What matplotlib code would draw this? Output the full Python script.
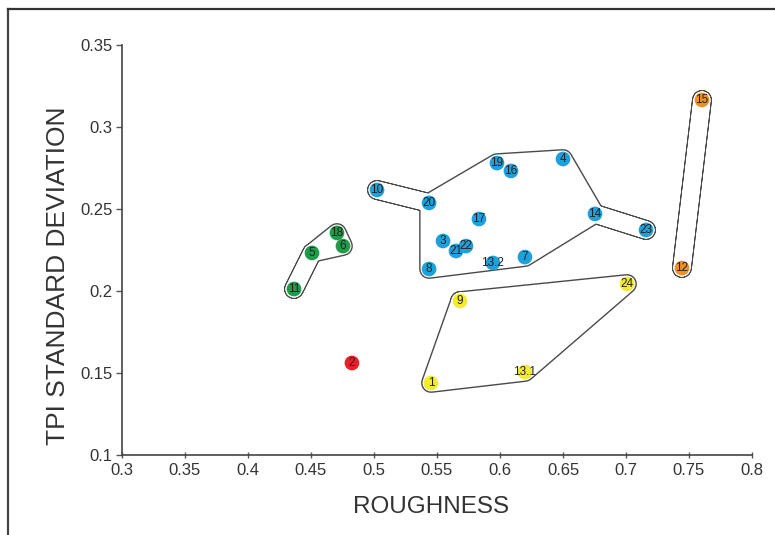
import matplotlib
matplotlib.use("Agg")
import matplotlib.pyplot as plt
from matplotlib.lines import Line2D

plt.rcParams['font.family'] = ['Liberation Sans', 'DejaVu Sans']

# site data
labels = ['1', '2', '3', '4', '5', '6', '7', '8', '9', '10', '11', '12',
          '13.1', '13.2', '14', '15', '16', '17', '18', '19', '20', '21', '22', '23', '24']
roughness = [0.5452, 0.4825, 0.5548, 0.6500, 0.4508, 0.4754, 0.6198, 0.5437, 0.5683,
             0.5024, 0.4365, 0.7444, 0.6198, 0.5944, 0.6754, 0.7603, 0.6087, 0.5833,
             0.4706, 0.5976, 0.5437, 0.5651, 0.5730, 0.7159, 0.7008]
tpi_std = [0.1439, 0.1561, 0.2305, 0.2805, 0.2232, 0.2274, 0.2207, 0.2134, 0.1939,
           0.2616, 0.2012, 0.2140, 0.1506, 0.2171, 0.2470, 0.3165, 0.2732, 0.2439,
           0.2354, 0.2780, 0.2537, 0.2244, 0.2274, 0.2372, 0.2043]
groups = ['yellow', 'red', 'blue', 'blue', 'green', 'green', 'blue', 'blue', 'yellow',
          'blue', 'green', 'orange', 'yellow', 'blue', 'blue', 'orange', 'blue', 'blue',
          'green', 'blue', 'blue', 'blue', 'blue', 'blue', 'yellow']

group_colors = {'blue': '#1ea0dc', 'green': '#1f9c4a', 'red': '#e32227',
                'yellow': '#f3ec2c', 'orange': '#f0901f'}

# outline paths, as sequences of site labels
outlines = [
    ['10', '20', '19', '4', '14', '23', '14', '7', '8', '20'],
    ['9', '24', '13.1', '1'],
    ['11', '5', '18', '6', '5'],
    ['15', '12'],
]

x_ticks = [0.3, 0.35, 0.4, 0.45, 0.5, 0.55, 0.6, 0.65, 0.7, 0.75, 0.8]
y_ticks = [0.1, 0.15, 0.2, 0.25, 0.3, 0.35]

W, H = 775, 535
fig = plt.figure(figsize=(W / 100, H / 100), dpi=100)
ax = fig.add_axes([122 / W, 80 / H, 630 / W, 410 / H])

px = 72 / 100  # points per pixel
r = 8.5       # outline distance from path, px
s = 1.4       # outline stroke, px

lookup = {lab: (x, y) for lab, x, y in zip(labels, roughness, tpi_std)}
for path in outlines:
    xs = [lookup[p][0] for p in path] + [lookup[path[0]][0]]
    ys = [lookup[p][1] for p in path] + [lookup[path[0]][1]]
    ax.plot(xs, ys, color='#4a4a4a', lw=(2 * r + 2 * s) * px,
            solid_joinstyle='round', solid_capstyle='round', zorder=1)
    ax.plot(xs, ys, color='white', lw=2 * r * px,
            solid_joinstyle='round', solid_capstyle='round', zorder=2)
    ax.fill(xs, ys, color='white', lw=0, zorder=2)

ax.scatter(roughness, tpi_std, s=112, c=[group_colors[g] for g in groups],
           edgecolors='none', zorder=3)
for lab, x, y in zip(labels, roughness, tpi_std):
    ax.text(x, y, lab, ha='center', va='center', fontsize=8.5,
            color='#222222', zorder=4)

ax.set_xlim(0.3, 0.8)
ax.set_ylim(0.1, 0.35)
ax.set_xticks(x_ticks)
ax.set_xticklabels([f'{v:g}' for v in x_ticks])
ax.set_yticks(y_ticks)
ax.set_yticklabels([f'{v:g}' for v in y_ticks])

for side in ['top', 'right']:
    ax.spines[side].set_visible(False)
for side in ['left', 'bottom']:
    ax.spines[side].set_color('#444444')
    ax.spines[side].set_linewidth(1.2)

ax.tick_params(axis='x', direction='inout', length=5, width=1, color='#555555',
               labelsize=12, labelcolor='#333333', pad=3)
ax.tick_params(axis='y', direction='out', length=4, width=1, color='#555555',
               labelsize=12, labelcolor='#333333', pad=3)

ax.set_xlabel('ROUGHNESS', fontsize=17.5, color='#333333')
ax.set_ylabel('TPI STANDARD DEVIATION', fontsize=19, color='#333333')
ax.xaxis.set_label_coords(0.4905, -0.1)
ax.yaxis.set_label_coords(-0.083, 0.437)

# frame around the figure (runs off the right and bottom edges)
fig.add_artist(Line2D([8 / W, 8 / W], [0, 1 - 8.5 / H], color='#444444', lw=1.6))
fig.add_artist(Line2D([8 / W, 1], [1 - 8.5 / H, 1 - 8.5 / H], color='#333333', lw=1.6))

fig.savefig('out.png', dpi=100, facecolor='white')
